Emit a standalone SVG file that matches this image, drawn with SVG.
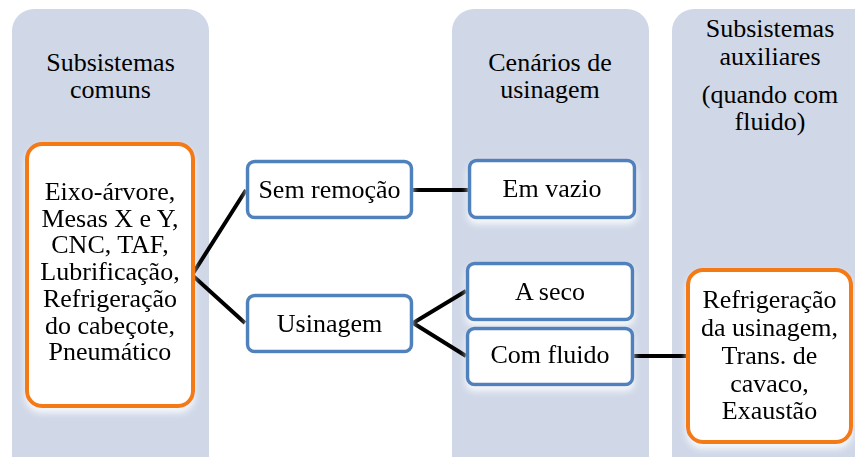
<svg xmlns="http://www.w3.org/2000/svg" width="855" height="457" viewBox="0 0 855 457">
<style>
.col{fill:#D0D8E8;}
.t{font-family:'Liberation Serif','Times New Roman','DejaVu Serif',serif;font-size:26px;fill:#000;text-anchor:middle;}
.ob{fill:#fff;stroke:#F47A16;stroke-width:4;}
.bb{fill:#fff;stroke:#4F81BD;stroke-width:3.5;}
.c{stroke:#000;stroke-width:4;fill:none;stroke-linejoin:miter;}
</style>
<defs>
<filter id="sh" x="-20%" y="-20%" width="140%" height="150%">
<feGaussianBlur in="SourceAlpha" stdDeviation="3"/>
<feOffset dy="5" result="b"/>
<feFlood flood-color="#fff" flood-opacity="0.8"/>
<feComposite in2="b" operator="in"/>
<feMerge><feMergeNode/><feMergeNode in="SourceGraphic"/></feMerge>
</filter>
</defs>
<rect width="855" height="457" fill="#fff"/>
<g id="col1"><rect class="col" x="12" y="9" width="197" height="470" rx="22"/>
<text class="t" x="110.5" y="71">Subsistemas</text><text class="t" x="110.5" y="98">comuns</text></g>
<g id="col2"><rect class="col" x="452" y="9" width="197" height="470" rx="22"/>
<text class="t" x="550" y="71">Cenários de</text><text class="t" x="550" y="98">usinagem</text></g>
<g id="col3"><rect class="col" x="672" y="9" width="210" height="470" rx="22"/>
<text class="t" x="770" y="37">Subsistemas</text><text class="t" x="770" y="65">auxiliares</text>
<text class="t" x="770" y="103">(quando com</text><text class="t" x="770" y="130">fluido)</text></g>
<g id="connectors">
<polyline class="c" points="246,190 192,275 245,323"/>
<line class="c" x1="412" y1="190" x2="468" y2="190"/>
<polyline class="c" points="466,291 413,323 466,356"/>
<line class="c" x1="633" y1="356" x2="687" y2="356"/>
</g>
<g id="n-comuns" filter="url(#sh)"><rect class="ob" x="27" y="144" width="166" height="262" rx="15"/>
<text class="t" x="110" y="200">Eixo-árvore,</text><text class="t" x="110" y="226.7">Mesas X e Y,</text>
<text class="t" x="110" y="253.4">CNC, TAF,</text><text class="t" x="110" y="280.1">Lubrificação,</text>
<text class="t" x="110" y="306.8">Refrigeração</text><text class="t" x="110" y="333.5">do cabeçote,</text>
<text class="t" x="110" y="360.2">Pneumático</text></g>
<g id="n-sem" filter="url(#sh)"><rect class="bb" x="247.5" y="161.5" width="164" height="56" rx="7"/>
<text class="t" x="329.5" y="198">Sem remoção</text></g>
<g id="n-usinagem" filter="url(#sh)"><rect class="bb" x="247.5" y="295.5" width="164" height="56" rx="7"/>
<text class="t" x="329.5" y="332">Usinagem</text></g>
<g id="n-vazio" filter="url(#sh)"><rect class="bb" x="469.5" y="160.5" width="165" height="57" rx="7"/>
<text class="t" x="552" y="197">Em vazio</text></g>
<g id="n-seco" filter="url(#sh)"><rect class="bb" x="467.5" y="263.5" width="165" height="56" rx="7"/>
<text class="t" x="550" y="300">A seco</text></g>
<g id="n-fluido" filter="url(#sh)"><rect class="bb" x="467.5" y="328.5" width="165" height="56" rx="7"/>
<text class="t" x="550" y="363">Com fluido</text></g>
<g id="n-aux" filter="url(#sh)"><rect class="ob" x="688" y="270" width="163" height="172" rx="15"/>
<text class="t" x="769.5" y="308">Refrigeração</text><text class="t" x="769.5" y="336">da usinagem,</text>
<text class="t" x="769.5" y="364">Trans. de</text><text class="t" x="769.5" y="392">cavaco,</text>
<text class="t" x="769.5" y="419">Exaustão</text></g>
</svg>
